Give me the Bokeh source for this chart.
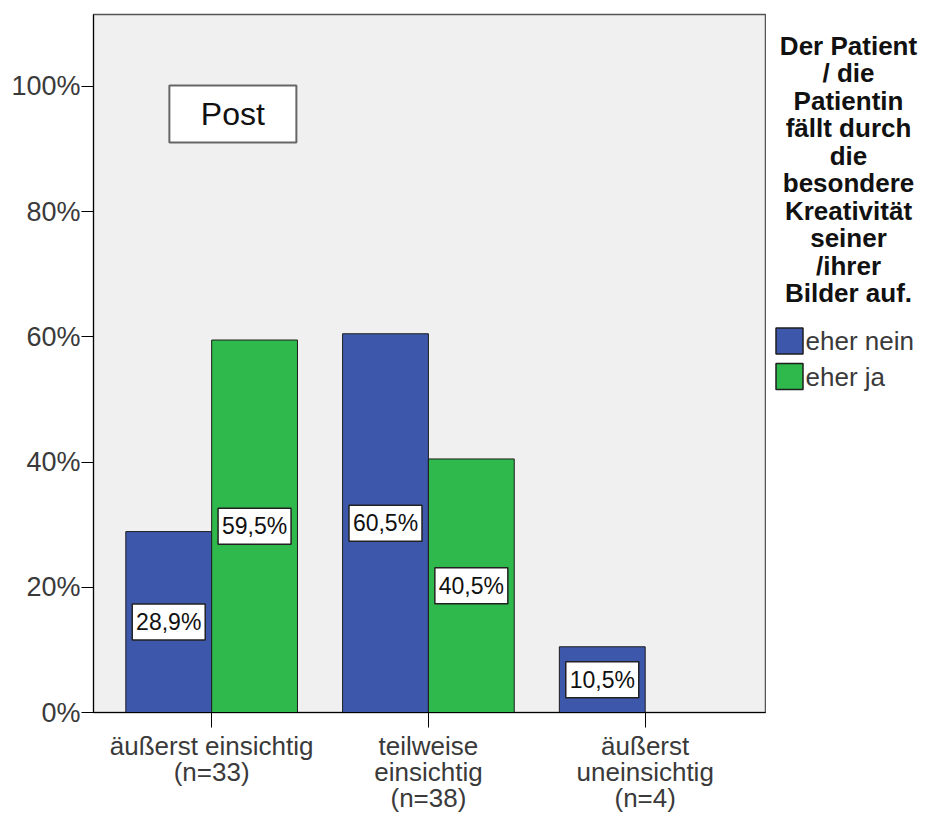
from bokeh.plotting import figure
from bokeh.models import ColumnDataSource, Range1d, FixedTicker, PrintfTickFormatter
from bokeh.layouts import row
from bokeh.embed import file_html
from bokeh.resources import INLINE
from bokeh.core.properties import value

# ---- data ----
categories = ["äußerst einsichtig\n(n=33)", "teilweise\neinsichtig\n(n=38)", "äußerst\nuneinsichtig\n(n=4)"]
series_names = ["eher nein", "eher ja"]
eher_nein = [28.9, 60.5, 10.5]
eher_ja = [59.5, 40.5, 0.0]
y_ticks = [0, 20, 40, 60, 80, 100]
panel_title = "Post"
legend_title_lines = ["Der Patient", "/ die", "Patientin", "fällt durch", "die",
                      "besondere", "Kreativität", "seiner", "/ihrer", "Bilder auf."]

colors = ["#3d57ab", "#2fb84b"]
FONT = "Liberation Sans"
TXT = "#3a3a3a"

bar_w = 0.396
offsets = [-bar_w / 2, bar_w / 2]

p = figure(width=766, height=816,
           x_range=Range1d(-0.545, 2.555), y_range=Range1d(0, 111.5),
           output_backend="svg", toolbar_location=None,
           min_border_left=93, min_border_right=1, min_border_top=14, min_border_bottom=104)

p.background_fill_color = "#f0f0f0"
p.border_fill_color = "white"
p.outline_line_color = "#555555"
p.outline_line_width = 1.5
p.xgrid.visible = False
p.ygrid.visible = False

# y axis
p.yaxis.ticker = FixedTicker(ticks=y_ticks)
p.yaxis.formatter = PrintfTickFormatter(format="%d%%")
p.yaxis.major_label_text_font = FONT
p.yaxis.major_label_text_font_size = "27px"
p.yaxis.major_label_text_color = TXT
p.yaxis.major_tick_out = 12
p.yaxis.major_tick_in = 0
p.yaxis.minor_tick_line_color = None
p.yaxis.major_label_standoff = 1
p.yaxis.axis_line_color = "black"
p.yaxis.major_tick_line_color = "black"

# x axis
p.xaxis.ticker = FixedTicker(ticks=list(range(len(categories))))
p.xaxis.major_label_overrides = {i: c for i, c in enumerate(categories)}
p.xaxis.major_label_text_font = FONT
p.xaxis.major_label_text_font_size = "26px"
p.xaxis.major_label_text_color = TXT
p.xaxis.major_label_text_line_height = 0.88
p.xaxis.major_tick_out = 15
p.xaxis.major_tick_in = 0
p.xaxis.minor_tick_line_color = None
p.xaxis.major_label_standoff = 3
p.xaxis.axis_line_color = "black"
p.xaxis.major_tick_line_color = "black"

# bars and labels
for vals, off, col in zip([eher_nein, eher_ja], offsets, colors):
    xs, tops, mids, labs = [], [], [], []
    for i, v in enumerate(vals):
        if v > 0:
            xs.append(i + off)
            tops.append(v)
            mids.append(v / 2)
            labs.append(f"{v:.1f}".replace(".", ",") + "%")
    src = ColumnDataSource(dict(x=xs, top=tops, mid=mids, label=labs))
    p.vbar(x="x", top="top", width=bar_w, source=src, fill_color=col,
           line_color="#1e1e1e", line_width=1)
    p.rect(x="x", y="mid", width=73, height=36, width_units="screen", height_units="screen",
           source=src, fill_color="white", line_color="#222222", line_width=1.5)
    p.text(x="x", y="mid", text="label", source=src, text_font=value(FONT),
           text_font_size="23px", text_color="#111111",
           text_align="center", text_baseline="middle")

# "Post" panel title box
p.rect(x=[0.098], y=[95.6], width=127, height=57, width_units="screen", height_units="screen",
       fill_color="white", line_color="#666666", line_width=2)
p.text(x=[0.098], y=[95.6], text=[panel_title], text_font=value(FONT),
       text_font_size="32px", text_color="#111111",
       text_align="center", text_baseline="middle")

# ---- legend panel (data units = page pixels) ----
p2 = figure(width=162, height=816, x_range=Range1d(0, 162), y_range=Range1d(712, 14),
            output_backend="svg", toolbar_location=None,
            x_axis_location=None, y_axis_location=None,
            min_border_left=0, min_border_right=0, min_border_top=14, min_border_bottom=104)
p2.xgrid.visible = False
p2.ygrid.visible = False
p2.outline_line_color = None
p2.background_fill_color = "white"
p2.border_fill_color = "white"

ty = [45 + 27.5 * i for i in range(len(legend_title_lines))]
p2.text(x=[82] * len(legend_title_lines), y=ty, text=legend_title_lines,
        text_font=value(FONT), text_font_size="26px", text_font_style="bold",
        text_color="#111111", text_align="center", text_baseline="middle")

ly = [340.5, 376]
p2.rect(x=[23, 23], y=ly, width=27, height=26, fill_color=colors,
        line_color="#1e1e1e", line_width=1.5)
p2.text(x=[39, 39], y=ly, text=series_names, text_font=value(FONT),
        text_font_size="26px", text_color=TXT, text_align="left", text_baseline="middle")

layout = row(p, p2, spacing=0)
open("out.html", "w").write(file_html(layout, INLINE))
